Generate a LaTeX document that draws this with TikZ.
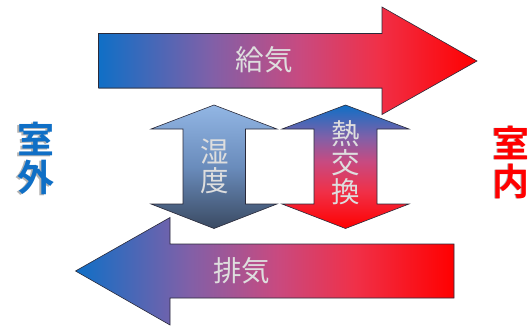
\documentclass[tikz,border=0pt]{standalone}
\usepackage{fontspec}
\setmainfont{Noto Sans CJK JP}[BoldFont={Noto Sans CJK JP Bold}]
\definecolor{cblue}{HTML}{0F6FC6}
\definecolor{cred}{HTML}{FF0000}
\definecolor{cpa}{HTML}{8060A8}
\definecolor{cpb}{HTML}{C84A80}
\definecolor{cpc}{HTML}{F03048}
\definecolor{hta}{HTML}{92B6E4}
\definecolor{htb}{HTML}{6A8CBC}
\definecolor{htc}{HTML}{3A4A62}
\definecolor{txtgray}{HTML}{DEDEDE}
\definecolor{edge}{HTML}{2A2A3A}
\pgfdeclarehorizontalshading{flowshade}{100bp}{
 color(0bp)=(cblue); color(25bp)=(cblue); color(39.8bp)=(cpa);
 color(51.6bp)=(cpb); color(62bp)=(cpc); color(75bp)=(cred); color(100bp)=(cred)}
\pgfdeclareverticalshading{heatshade}{100bp}{
 color(0bp)=(cred); color(25bp)=(cred); color(40bp)=(cpc); color(52bp)=(cpb);
 color(62bp)=(cpa); color(75bp)=(cblue); color(100bp)=(cblue)}
\pgfdeclareverticalshading{humidshade}{100bp}{
 color(0bp)=(htc); color(25bp)=(htc); color(50bp)=(htb); color(75bp)=(hta); color(100bp)=(hta)}
\tikzset{
 arrowbody/.style={draw=edge,line width=0.6pt,line join=miter},
 arrowshadow/.style={draw=black!45,line width=0.8pt,opacity=0.6},
 flowlabel/.style={text=txtgray,inner sep=0pt,align=center,font=\fontsize{28.5}{29}\selectfont},
 sidelabel/.style={inner sep=0pt,align=center,font=\fontsize{37}{38}\selectfont\bfseries},
 sideshadow/.style={sidelabel,text=black,opacity=0.3},
}
\begin{document}
\begin{tikzpicture}[x=1pt,y=-1pt]
\useasboundingbox (0,0) rectangle (532,329);
% top arrow
\path[arrowshadow] (98.5,88.6) -- (382,88.6);
\path[arrowbody,shading=flowshade] (98.5,33.5) -- (382,33.5) -- (382,7) -- (477,61) -- (382,114.5) -- (382,88) -- (98.5,88) -- cycle;
% bottom arrow
\path[arrowbody,shading=flowshade] (454,244) -- (170,244) -- (170,217.5) -- (75.5,271) -- (170,325) -- (170,298) -- (454,298) -- cycle;
% humidity arrow
\path[arrowbody,shading=humidshade] (214,105) -- (277,129) -- (245.5,129) -- (245.5,204) -- (277,204) -- (214,228.5) -- (151,204) -- (183,204) -- (183,129) -- (151,129) -- cycle;
% heat arrow
\path[arrowbody,shading=heatshade] (345.5,105) -- (409,129) -- (377,129) -- (377,204) -- (409,204) -- (345.5,228.5) -- (282,204) -- (314,204) -- (314,129) -- (282,129) -- cycle;
% labels
\node[flowlabel] (supply) at (264,60) {給気};
\node[flowlabel] (exhaust) at (241.5,271) {排気};
\node[flowlabel] (hum) at (214.5,166.5) {湿\\度};
\node[flowlabel] (heat) at (346,162.5) {熱\\交\\換};
\node[sideshadow] (outsideshade) at (34,159) {室\\外};
\node[sideshadow] (insideshade) at (509.5,162.5) {室\\内};
\node[sidelabel,text=cblue] (outside) at (35.5,158.5) {室\\外};
\node[sidelabel,text=cred] (inside) at (511,162) {室\\内};
\end{tikzpicture}
\end{document}
